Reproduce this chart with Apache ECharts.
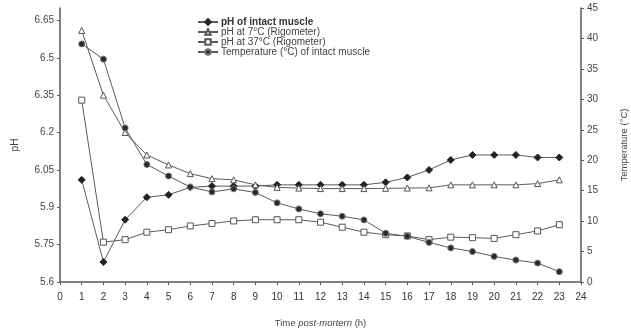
<!DOCTYPE html>
<html>
<head>
<meta charset="utf-8">
<script src="https://cdn.jsdelivr.net/npm/echarts@6/dist/echarts.min.js"></script>
<style>
  html, body { margin: 0; padding: 0; background: #fff; }
  #chart { width: 631px; height: 331px; }
</style>
</head>
<body>
<div id="chart"></div>
<script>
// hours post-mortem
var hours = [1, 2, 3, 4, 5, 6, 7, 8, 9, 10, 11, 12, 13, 14, 15, 16, 17, 18, 19, 20, 21, 22, 23];

// pH series (left axis)
var phIntact = [6.01, 5.68, 5.85, 5.94, 5.95, 5.98, 5.985, 5.985, 5.985, 5.99, 5.99, 5.99, 5.99, 5.99, 6.0, 6.02, 6.05, 6.09, 6.11, 6.11, 6.11, 6.10, 6.10];
var ph7 = [6.61, 6.35, 6.2, 6.11, 6.07, 6.035, 6.015, 6.01, 5.99, 5.98, 5.977, 5.975, 5.975, 5.975, 5.976, 5.977, 5.978, 5.99, 5.99, 5.99, 5.99, 5.995, 6.01];
var ph37 = [6.33, 5.76, 5.77, 5.80, 5.81, 5.825, 5.835, 5.845, 5.85, 5.85, 5.85, 5.84, 5.82, 5.80, 5.79, 5.785, 5.77, 5.78, 5.778, 5.775, 5.79, 5.805, 5.83];

// temperature (right axis)
var temp = [39.1, 36.6, 25.3, 19.3, 17.4, 15.6, 14.8, 15.3, 14.7, 13.0, 12.0, 11.2, 10.8, 10.2, 8.0, 7.5, 6.5, 5.6, 5.0, 4.2, 3.6, 3.1, 1.7];

// tick labels
var phTicks = [5.6, 5.75, 5.9, 6.05, 6.2, 6.35, 6.5, 6.65];

var names = [
  'pH of intact muscle',
  'pH at 7°C (Rigometer)',
  'pH at 37°C (Rigometer)',
  'Temperature (°C) of intact muscle'
];

function pairs(ys) {
  return hours.map(function (h, i) { return [h, ys[i]]; });
}

var lineCol = '#5a5a5a';
var txtCol = '#444';
var font = 'Liberation Sans';

var myChart = echarts.init(document.getElementById('chart'));

var option = {
  animation: false,
  textStyle: { fontFamily: font },
  grid: { left: 60, right: 50, top: 8, bottom: 49, outerBoundsMode: 'none' },
  legend: {
    orient: 'vertical',
    left: 192,
    top: 12,
    itemGap: 0,
    itemWidth: 20,
    itemHeight: 7,
    textStyle: { fontSize: 10, lineHeight: 10, color: txtCol, fontFamily: font, padding: [0, 0, 0, -2] },
    data: [
      { name: names[0], textStyle: { fontWeight: 'bold', color: '#333' } },
      { name: names[1] },
      { name: names[2] },
      { name: names[3] }
    ]
  },
  xAxis: {
    type: 'value',
    min: 0,
    max: 24,
    interval: 1,
    name: '{n|Time }{i|post-mortern}{n| (h)}',
    nameLocation: 'middle',
    nameGap: 36,
    nameTextStyle: {
      rich: {
        n: { fontSize: 9.5, color: txtCol, fontFamily: font },
        i: { fontSize: 9.5, color: txtCol, fontStyle: 'italic', fontFamily: font }
      }
    },
    axisLine: { lineStyle: { color: lineCol, width: 1.5 } },
    axisTick: { length: 3, lineStyle: { color: lineCol } },
    axisLabel: { fontSize: 10, color: '#333', margin: 10 },
    splitLine: { show: false }
  },
  yAxis: [
    {
      type: 'value',
      min: 5.6,
      max: 6.7,
      name: 'pH',
      nameLocation: 'middle',
      nameRotate: 90,
      nameGap: 40,
      nameTextStyle: { fontSize: 10, color: txtCol },
      axisLine: { show: true, lineStyle: { color: lineCol, width: 1.5 } },
      axisTick: { show: true, length: 3, customValues: phTicks, lineStyle: { color: lineCol } },
      axisLabel: {
        fontSize: 10,
        color: txtCol,
        margin: 6,
        customValues: phTicks,
        formatter: function (v) { return String(Math.round(v * 100) / 100); }
      },
      splitLine: { show: false }
    },
    {
      type: 'value',
      min: 0,
      max: 45,
      interval: 5,
      position: 'right',
      name: 'Temperature (°C)',
      nameLocation: 'middle',
      nameRotate: 90,
      nameGap: 38,
      nameTextStyle: { fontSize: 9.5, color: txtCol },
      axisLine: { show: true, lineStyle: { color: lineCol, width: 1.5 } },
      axisTick: { show: true, length: 3, lineStyle: { color: lineCol } },
      axisLabel: { fontSize: 10, color: txtCol, margin: 6 },
      splitLine: { show: false }
    }
  ],
  series: [
    {
      name: names[0],
      type: 'line',
      yAxisIndex: 0,
      data: pairs(phIntact),
      symbol: 'diamond',
      symbolSize: 7,
      lineStyle: { color: lineCol, width: 1 },
      itemStyle: { color: '#222', borderColor: '#222', borderWidth: 1 }
    },
    {
      name: names[1],
      type: 'line',
      yAxisIndex: 0,
      data: pairs(ph7),
      symbol: 'triangle',
      symbolSize: 6,
      lineStyle: { color: lineCol, width: 1 },
      itemStyle: { color: '#fff', borderColor: '#555', borderWidth: 1 }
    },
    {
      name: names[2],
      type: 'line',
      yAxisIndex: 0,
      data: pairs(ph37),
      symbol: 'rect',
      symbolSize: 6,
      lineStyle: { color: lineCol, width: 1 },
      itemStyle: { color: '#fff', borderColor: '#555', borderWidth: 1 }
    },
    {
      name: names[3],
      type: 'line',
      yAxisIndex: 1,
      data: pairs(temp),
      symbol: 'circle',
      symbolSize: 6,
      lineStyle: { color: lineCol, width: 1 },
      itemStyle: { color: '#2a2a2a', borderColor: '#777', borderWidth: 1 }
    }
  ]
};

myChart.setOption(option);
</script>
</body>
</html>
